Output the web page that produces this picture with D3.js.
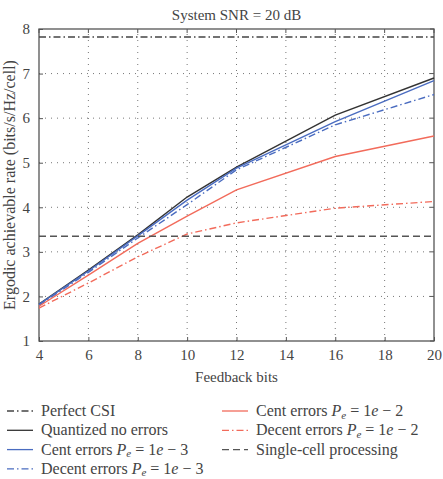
<!DOCTYPE html>
<html>
<head>
<meta charset="utf-8">
<script src="https://cdn.jsdelivr.net/npm/d3@7"></script>
<style>
  body { margin: 0; background: #fff; }
  svg text { font-family: "Liberation Serif", "DejaVu Serif", serif; fill: #444; }
</style>
</head>
<body>
<div id="chart"></div>
<script>
// feedback bits on the x axis
const bits = [4, 6, 8, 10, 12, 16, 20];

const quantNoErr = [1.83, 2.59, 3.38, 4.23, 4.9, 6.07, 6.9];
const cent3 = [1.82, 2.57, 3.36, 4.16, 4.88, 5.92, 6.84];
const decent3 = [1.8, 2.54, 3.31, 4.06, 4.84, 5.85, 6.53];
const cent2 = [1.78, 2.48, 3.19, 3.8, 4.39, 5.14, 5.6];
const decent2 = [1.74, 2.3, 2.89, 3.4, 3.65, 3.98, 4.13];

const perfectCSI = 7.82;
const singleCell = 3.35;

const xTicks = [4, 6, 8, 10, 12, 14, 16, 18, 20];
const yTicks = [1, 2, 3, 4, 5, 6, 7, 8];

const width = 443, height = 479;
const margin = { left: 39, right: 9, top: 29, bottom: 138 };

const svg = d3.select("#chart").append("svg")
    .attr("width", width)
    .attr("height", height);

const x = d3.scaleLinear().domain([4, 20]).range([margin.left, width - margin.right]);
const y = d3.scaleLinear().domain([1, 8]).range([height - margin.bottom, margin.top]);

// grid
svg.append("g").selectAll("line.gx")
    .data(xTicks.slice(1, -1))
    .join("line")
    .attr("x1", d => x(d)).attr("x2", d => x(d))
    .attr("y1", y(1)).attr("y2", y(8))
    .attr("stroke", "#777").attr("stroke-width", 1)
    .attr("stroke-dasharray", "1,5");

svg.append("g").selectAll("line.gy")
    .data(yTicks.slice(1, -1))
    .join("line")
    .attr("y1", d => y(d)).attr("y2", d => y(d))
    .attr("x1", x(4)).attr("x2", x(20))
    .attr("stroke", "#777").attr("stroke-width", 1)
    .attr("stroke-dasharray", "1,5");

// axes
const xAxis = d3.axisBottom(x).tickValues(xTicks).tickFormat(d3.format("d")).tickSize(-4).tickPadding(8);
const yAxis = d3.axisLeft(y).tickValues(yTicks).tickFormat(d3.format("d")).tickSize(-4).tickPadding(9);

const gx = svg.append("g").attr("transform", `translate(0,${y(1)})`).call(xAxis);
const gy = svg.append("g").attr("transform", `translate(${x(4)},0)`).call(yAxis);
[gx, gy].forEach(g => {
    g.attr("font-family", null).attr("font-size", null);
    g.select(".domain").remove();
    g.selectAll("line").attr("stroke", "#555");
    g.selectAll("text").style("font-size", "15px").attr("fill", "#444");
});

// top/right ticks
svg.append("g").selectAll("line")
    .data(xTicks)
    .join("line")
    .attr("x1", d => x(d)).attr("x2", d => x(d))
    .attr("y1", y(8)).attr("y2", y(8) + 4)
    .attr("stroke", "#555");
svg.append("g").selectAll("line")
    .data(yTicks)
    .join("line")
    .attr("y1", d => y(d)).attr("y2", d => y(d))
    .attr("x1", x(20)).attr("x2", x(20) - 4)
    .attr("stroke", "#555");

// frame
svg.append("rect")
    .attr("x", x(4)).attr("y", y(8))
    .attr("width", x(20) - x(4)).attr("height", y(1) - y(8))
    .attr("fill", "none").attr("stroke", "#555").attr("stroke-width", 1.3);

const series = [
    { name: "Perfect CSI", color: "#444", dash: "7,3,1.5,3", values: bits.map(() => perfectCSI), hline: true },
    { name: "Quantized no errors", color: "#333", dash: null, values: quantNoErr },
    { name: "Cent errors", pe: "3", color: "#4a6cc0", dash: null, values: cent3 },
    { name: "Decent errors", pe: "3", color: "#4a6cc0", dash: "7,3,1.5,3", values: decent3 },
    { name: "Cent errors", pe: "2", color: "#f26b5b", dash: null, values: cent2 },
    { name: "Decent errors", pe: "2", color: "#f26b5b", dash: "7,3,1.5,3", values: decent2 },
    { name: "Single-cell processing", color: "#555", dash: "7,4", values: bits.map(() => singleCell), hline: true }
];

const line = d3.line().x(d => x(d[0])).y(d => y(d[1]));

svg.append("g").selectAll("path")
    .data(series)
    .join("path")
    .attr("d", s => line(s.hline ? [[4, s.values[0]], [20, s.values[0]]] : bits.map((b, i) => [b, s.values[i]])))
    .attr("fill", "none")
    .attr("stroke", s => s.color)
    .attr("stroke-width", s => s.hline ? 1.5 : 1.4)
    .attr("stroke-dasharray", s => s.dash);

// labels
svg.append("text")
    .attr("x", (x(4) + x(20)) / 2).attr("y", 20)
    .attr("text-anchor", "middle")
    .style("font-size", "15px")
    .text("System SNR = 20 dB");

svg.append("text")
    .attr("x", (x(4) + x(20)) / 2).attr("y", 382)
    .attr("text-anchor", "middle")
    .style("font-size", "15px")
    .text("Feedback bits");

svg.append("text")
    .attr("transform", `translate(15,${(y(1) + y(8)) / 2}) rotate(-90)`)
    .attr("text-anchor", "middle")
    .style("font-size", "16px")
    .text("Ergodic achievable rate (bits/s/Hz/cell)");

// legend
const legend = svg.append("g");
series.forEach((s, k) => {
    const col = k < 4 ? 0 : 1;
    const row = k < 4 ? k : k - 4;
    const lx = col === 0 ? 7 : 222;
    const ly = 416 + row * 19.3;
    legend.append("line")
        .attr("x1", lx).attr("x2", lx + 26)
        .attr("y1", ly - 5).attr("y2", ly - 5)
        .attr("stroke", s.color).attr("stroke-width", 1.3)
        .attr("stroke-dasharray", s.dash);
    const t = legend.append("text")
        .attr("x", lx + 34).attr("y", ly)
        .style("font-size", "16px");
    t.append("tspan").text(s.name);
    if (s.pe) {
        t.append("tspan").text(" P").style("font-style", "italic");
        t.append("tspan").text("e").style("font-style", "italic")
            .style("font-size", "11px").attr("dy", 2.5);
        t.append("tspan").text(" = 1").attr("dy", -2.5);
        t.append("tspan").text("e").style("font-style", "italic");
        t.append("tspan").text(" − " + s.pe);
    }
});
</script>
</body>
</html>
